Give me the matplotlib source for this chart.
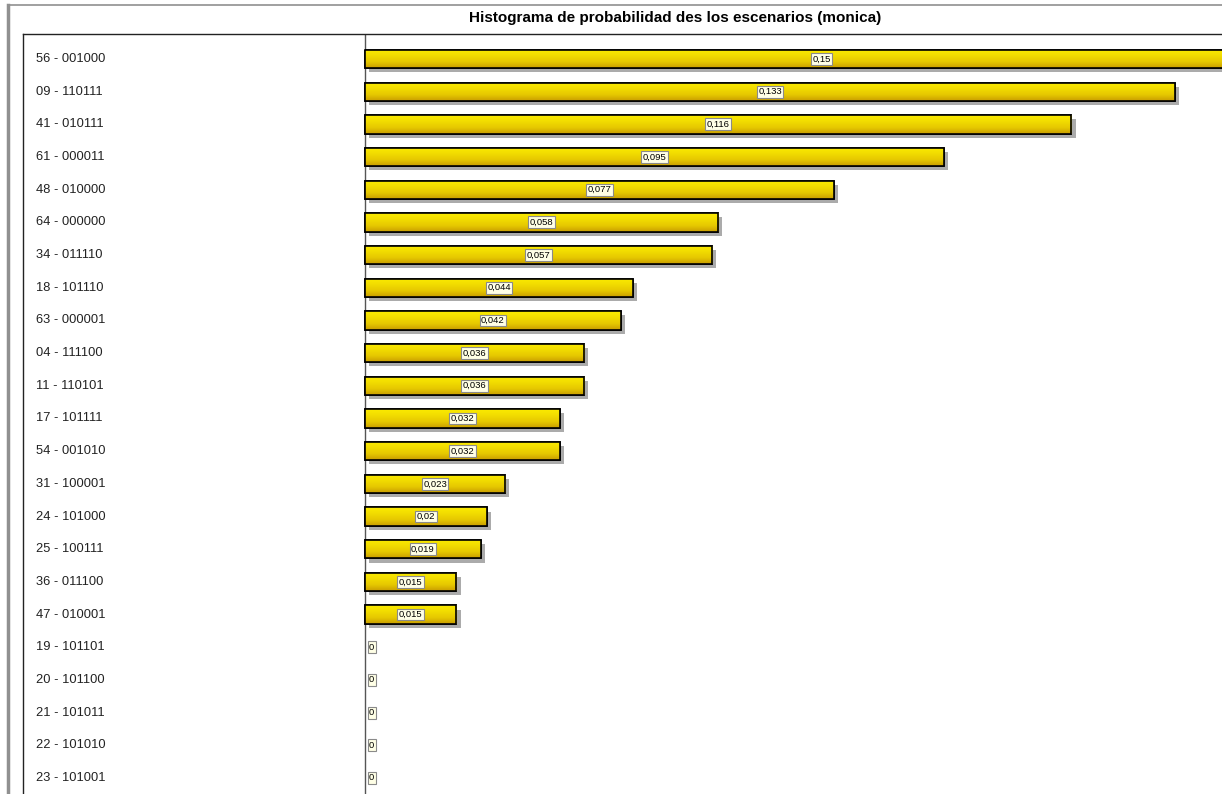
import matplotlib
matplotlib.use("Agg")
import matplotlib.pyplot as plt
import matplotlib.patheffects as pe
import numpy as np
from matplotlib.lines import Line2D

# scenario labels and probabilities
scenarios = ["56 - 001000", "09 - 110111", "41 - 010111", "61 - 000011",
             "48 - 010000", "64 - 000000", "34 - 011110", "18 - 101110",
             "63 - 000001", "04 - 111100", "11 - 110101", "17 - 101111",
             "54 - 001010", "31 - 100001", "24 - 101000", "25 - 100111",
             "36 - 011100", "47 - 010001", "19 - 101101", "20 - 101100",
             "21 - 101011", "22 - 101010", "23 - 101001"]
probs = [0.15, 0.133, 0.116, 0.095, 0.077, 0.058, 0.057, 0.044, 0.042,
         0.036, 0.036, 0.032, 0.032, 0.023, 0.02, 0.019, 0.015, 0.015,
         0, 0, 0, 0, 0]
prob_labels = ["0,15", "0,133", "0,116", "0,095", "0,077", "0,058", "0,057",
               "0,044", "0,042", "0,036", "0,036", "0,032", "0,032", "0,023",
               "0,02", "0,019", "0,015", "0,015", "0", "0", "0", "0", "0"]

W, H = 1222, 794
fig = plt.figure(figsize=(W / 100, H / 100), dpi=100)
fig.patch.set_facecolor("white")

# outer window frame
fig.add_artist(Line2D([8 / W, 8 / W], [0, 1 - 5 / H], color="#909090", lw=2.5))
fig.add_artist(Line2D([8 / W, 1], [1 - 5 / H, 1 - 5 / H], color="#909090", lw=1.2))

fig.text(675 / W, 1 - 18 / H, "Histograma de probabilidad des los escenarios (monica)",
         ha="center", va="center", fontsize=11, fontweight="bold",
         family=["Liberation Sans Narrow", "Liberation Sans", "DejaVu Sans"])

ax_left, ax_top = 23, 34
ax = fig.add_axes([ax_left / W, 0, 1 - ax_left / W, 1 - ax_top / H])
px_per_unit = 6090.0
zero_px = 365 - ax_left
ax.set_xlim(-zero_px / px_per_unit, (W - ax_left - zero_px) / px_per_unit)
row0, step = 59 - ax_top, 32.68
ax.set_ylim((H - ax_top - row0) / step, -row0 / step)

for s in ["right", "bottom"]:
    ax.spines[s].set_visible(False)
for s in ["left", "top"]:
    ax.spines[s].set_color("#222222")
    ax.spines[s].set_linewidth(1.0)
ax.set_xticks([])
ax.set_yticks([])

ax.axvline(0, color="#555555", lw=1.0, zorder=1)

grad = np.linspace(0, 1, 64).reshape(-1, 1)
cmap = matplotlib.colors.LinearSegmentedColormap.from_list(
    "gold", ["#fbeb00", "#f2dc00", "#e6c800", "#c99e00"])

ypos = np.arange(len(probs))
bh = 0.56
shadow = [pe.SimplePatchShadow(offset=(3, -3), shadow_rgbFace="#888888", alpha=0.7),
          pe.Normal()]
for y, v in zip(ypos, probs):
    if v <= 0:
        continue
    b = ax.barh(y, v, height=bh, color="#f0d800", edgecolor="black",
                linewidth=1.2, zorder=2, path_effects=shadow)[0]
    im = ax.imshow(grad, cmap=cmap, aspect="auto", zorder=2.5,
                   extent=[0, v, y + bh / 2, y - bh / 2], interpolation="bilinear")
    im.set_clip_path(b)
    ax.barh(y, v, height=bh, fill=False, edgecolor="black",
            linewidth=1.2, zorder=3)

label_x = (36 - ax_left - zero_px) / px_per_unit
for y, name in zip(ypos, scenarios):
    ax.text(label_x, y, name, ha="left", va="center", fontsize=9.3,
            color="#222222", family="Liberation Sans")

box = dict(boxstyle="square,pad=0.15", fc="#ffffe6", ec="#8a8a8a", lw=0.8)
for y, v, lab in zip(ypos, probs, prob_labels):
    if v > 0:
        ax.text(v / 2, y, lab, ha="center", va="center", fontsize=6.8,
                family="Liberation Sans", bbox=box, zorder=4)
    else:
        ax.text(4 / px_per_unit, y, lab, ha="left", va="center", fontsize=6.8,
                family="Liberation Sans", bbox=box, zorder=4)

fig.savefig("out.png", dpi=100)
